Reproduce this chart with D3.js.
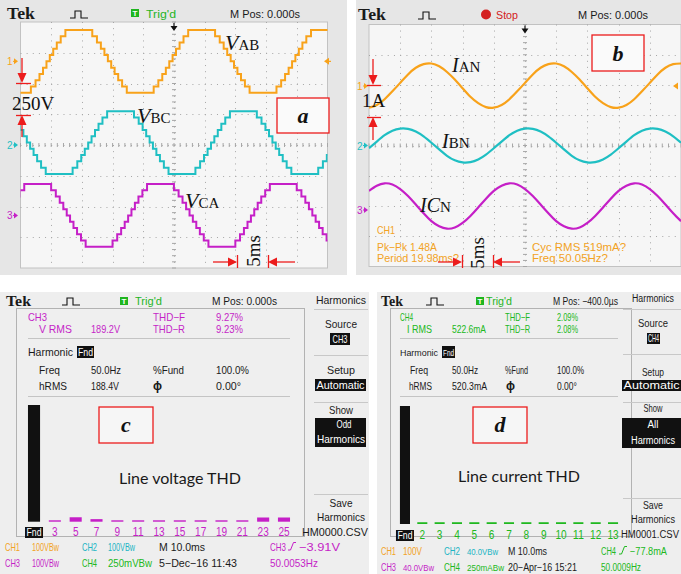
<!DOCTYPE html>
<html><head><meta charset="utf-8">
<script src="https://d3js.org/d3.v7.min.js"></script>
<style>html,body{margin:0;padding:0;background:#fff;} svg{display:block;}</style>
</head><body>
<svg id="chart" width="681" height="574"></svg>
<script>
// ================= DATA =================
// Staircase line voltages (panel a): one cycle of levels, start time of each level relative to the crest (ms)
const staircaseLevelStartMs = [-10,-7.81,-7.05,-6.41,-5.83,-5.27,-4.73,-4.17,-3.59,-2.95,-2.19,2.19,2.95,3.59,4.17,4.73,5.27,5.83,6.41,7.05,7.81];
const staircaseLevels = [-5,-4,-3,-2,-1,0,1,2,3,4,5,4,3,2,1,0,-1,-2,-3,-4,-5];
const staircaseStepDiv = 0.204;
const vabPeakTimesMs = [-15.5, 4.5, 24.5];
const vbcPeakTimesMs = [-28.7, -8.7, 11.3, 31.3];
const vcaPeakTimesMs = [-22.2, -2.2, 17.8];
const vabOffsetDiv = 2.72, vbcOffsetDiv = 0.08, vcaOffsetDiv = -2.29;

// Phase currents (panel b), divisions from screen centre
const currentTimesMs = [-25,-23.75,-22.5,-21.25,-20,-18.75,-17.5,-16.25,-15,-13.75,-12.5,-11.25,-10,-8.75,-7.5,-6.25,-5,-3.75,-2.5,-1.25,0,1.25,2.5,3.75,5,6.25,7.5,8.75,10,11.25,12.5,13.75,15,16.25,17.5,18.75,20,21.25,22.5,23.75,25];
const ianDiv = [1.25,1.34,1.53,1.79,2.07,2.35,2.57,2.69,2.71,2.62,2.43,2.18,1.89,1.61,1.40,1.27,1.25,1.34,1.53,1.79,2.07,2.35,2.57,2.69,2.71,2.62,2.43,2.18,1.89,1.61,1.40,1.27,1.25,1.34,1.53,1.79,2.07,2.35,2.57,2.69,2.71];
const ibnDiv = [-0.09,0.13,0.34,0.49,0.56,0.55,0.46,0.30,0.09,-0.13,-0.34,-0.49,-0.56,-0.55,-0.46,-0.30,-0.09,0.13,0.34,0.49,0.56,0.55,0.46,0.30,0.09,-0.13,-0.34,-0.49,-0.56,-0.55,-0.46,-0.30,-0.09,0.13,0.34,0.49,0.56,0.55,0.46,0.30,0.09];
const icnDiv = [-1.50,-1.33,-1.25,-1.29,-1.44,-1.67,-1.95,-2.24,-2.50,-2.67,-2.75,-2.71,-2.56,-2.33,-2.05,-1.76,-1.50,-1.33,-1.25,-1.29,-1.44,-1.67,-1.95,-2.24,-2.50,-2.67,-2.75,-2.71,-2.56,-2.33,-2.05,-1.76,-1.50,-1.33,-1.25,-1.29,-1.44,-1.67,-1.95,-2.24,-2.50];

// Harmonic spectra (panels c, d), % of fundamental
const voltageHarmonics = ["Fnd","3","5","7","9","11","13","15","17","19","21","23","25"];
const voltageHarmonicPct = [100,1.2,3.8,2.2,1.2,1.2,1.2,1.2,1.2,1.2,1.2,3.6,3.6];
const currentHarmonics = ["Fnd","2","3","4","5","6","7","8","9","10","11","12","13"];
const currentHarmonicPct = [100,1.5,1.5,1.5,1.5,1.5,1.5,1.5,1.5,1.5,1.5,1.5,1.5];

// ================= DRAWING =================
const svg = d3.select("#chart");
const SANS = "'Liberation Sans', Arial, Helvetica, sans-serif";
const SERIF = "'Liberation Serif', 'Times New Roman', serif";
const COL = {orange:"#f8a21a", teal:"#1fbfc3", magenta:"#c51fc7", green:"#20b820", red:"#ec1c1c", txtOrange:"#f2a224", txtTeal:"#20b4c4"};

svg.append("rect").attr("width",681).attr("height",574).attr("fill","#fff");

function txt(g,x,y,s,o={}){
  const t=g.append("text").attr("x",x).attr("y",y)
    .attr("font-family",o.family||SANS).attr("font-size",o.size||10.5)
    .attr("fill",o.color||"#1a1a1a").text(s);
  if(o.anchor) t.attr("text-anchor",o.anchor);
  if(o.weight) t.attr("font-weight",o.weight);
  if(o.italic) t.attr("font-style","italic");
  if(o.len) t.attr("textLength",o.len).attr("lengthAdjust","spacingAndGlyphs");
  return t;
}
function label(g,x,y,main,rest,big,small){
  const t=g.append("text").attr("x",x).attr("y",y).attr("font-family",SERIF).attr("fill","#111");
  t.append("tspan").attr("font-style","italic").attr("font-size",big).text(main);
  t.append("tspan").attr("font-size",small).text(rest);
}
function tri(g,x,y,dir,len,half,color){
  let p;
  if(dir==="down") p=[[x,y],[x-half,y-len],[x+half,y-len]];
  if(dir==="up") p=[[x,y],[x-half,y+len],[x+half,y+len]];
  if(dir==="right") p=[[x,y],[x-len,y-half],[x-len,y+half]];
  if(dir==="left") p=[[x,y],[x+len,y-half],[x+len,y+half]];
  g.append("path").attr("d","M"+p.map(d=>d.join(",")).join("L")+"Z").attr("fill",color);
}
function ln(g,x1,y1,x2,y2,color,w){
  g.append("line").attr("x1",x1).attr("y1",y1).attr("x2",x2).attr("y2",y2).attr("stroke",color).attr("stroke-width",w||1);
}
function pulse(g,x,y){
  g.append("path").attr("d",`M${x},${y}h5v-7h6v7h7`).attr("fill","none").attr("stroke","#111").attr("stroke-width",1.1);
}
function trigBox(g,x,y){
  g.append("rect").attr("x",x).attr("y",y).attr("width",8).attr("height",8).attr("fill","#1fb51f");
  txt(g,x+4,y+7,"T",{size:8,color:"#fff",anchor:"middle",weight:"bold"});
}
function chMarker(g,x,y,n,color){
  txt(g,x,y+4,n,{size:10,color});
  tri(g,x+11,y,"right",4,3,color);
  ln(g,x+6,y,x+8,y,color,1);
}

function scopePanel(P){
  const g=svg.append("g");
  g.append("rect").attr("x",P.fx).attr("y",P.fy).attr("width",P.fw).attr("height",P.fh).attr("fill","#e6e6e6");
  g.append("rect").attr("x",P.gx0).attr("y",P.gy0).attr("width",P.gx1-P.gx0).attr("height",P.gy1-P.gy0)
    .attr("fill","#f6f6f6").attr("stroke","#c2c2c2");
  const xs=d3.scaleLinear([-25,25],[P.gx0,P.gx1]);
  const ys=d3.scaleLinear([-4,4],[P.gy1,P.gy0]);
  const dx=(P.gx1-P.gx0)/50, dy=(P.gy1-P.gy0)/40;
  const grid=g.append("g").attr("stroke","#a6a6a6").attr("stroke-width",1);
  grid.selectAll("line.v").data(d3.range(-20,21,5)).join("line").attr("class","v")
    .attr("x1",d=>Math.round(xs(d))+0.5).attr("x2",d=>Math.round(xs(d))+0.5)
    .attr("y1",P.gy0).attr("y2",P.gy1).attr("stroke-dasharray",`1 ${dy-1}`);
  grid.selectAll("line.h").data(d3.range(-3,4,1)).join("line").attr("class","h")
    .attr("y1",d=>Math.round(ys(d))+0.5).attr("y2",d=>Math.round(ys(d))+0.5)
    .attr("x1",P.gx0).attr("x2",P.gx1).attr("stroke-dasharray",`1 ${dx-1}`);
  grid.selectAll("line.th").data(d3.range(-25,25.01,1)).join("line").attr("class","th")
    .attr("x1",d=>xs(d)).attr("x2",d=>xs(d)).attr("y1",ys(0)-2).attr("y2",ys(0)+2);
  grid.selectAll("line.tv").data(d3.range(-4,4.01,0.2)).join("line").attr("class","tv")
    .attr("y1",d=>ys(d)).attr("y2",d=>ys(d)).attr("x1",xs(0)-2).attr("x2",xs(0)+2);
  const id="clip"+P.fx;
  svg.append("clipPath").attr("id",id).append("rect").attr("x",P.gx0).attr("y",P.gy0)
    .attr("width",P.gx1-P.gx0).attr("height",P.gy1-P.gy0);
  const wave=svg.append("g").attr("clip-path",`url(#${id})`);
  ln(g,xs(0),P.gy0+1,xs(0),P.gy0+5,"#111",1.2);
  tri(g,xs(0),P.gy0+9,"down",5,3.5,"#111");
  return {g,xs,ys,wave};
}

// ---------- Panel a ----------
const A={fx:0,fy:0,fw:347,fh:275,gx0:20.5,gx1:327.5,gy0:22,gy1:268};
const pa=scopePanel(A);
txt(pa.g,7,19,"Tek",{family:SERIF,size:16,weight:"bold",len:28});
pulse(pa.g,70,18);
trigBox(pa.g,131,9);
txt(pa.g,146,17.5,"Trig'd",{size:11,color:"#1fb51f",len:30});
txt(pa.g,230,17.5,"M Pos: 0.000s",{size:11,len:70});

function stairPoints(peaks){
  const pts=[];
  peaks.forEach(p=>staircaseLevelStartMs.forEach((o,i)=>pts.push([p+o,staircaseLevels[i]])));
  pts.push([peaks[peaks.length-1]+10,staircaseLevels[staircaseLevels.length-1]]);
  return pts;
}
[[vabPeakTimesMs,vabOffsetDiv,COL.orange],[vbcPeakTimesMs,vbcOffsetDiv,COL.teal],[vcaPeakTimesMs,vcaOffsetDiv,COL.magenta]].forEach(([pk,off,c])=>{
  const line=d3.line().x(d=>pa.xs(d[0])).y(d=>pa.ys(off+d[1]*staircaseStepDiv)).curve(d3.curveStepAfter);
  pa.wave.append("path").attr("d",line(stairPoints(pk))).attr("fill","none").attr("stroke",c).attr("stroke-width",2);
});
chMarker(pa.g,7,pa.ys(vabOffsetDiv),"1",COL.orange);
chMarker(pa.g,7,pa.ys(0),"2",COL.teal);
chMarker(pa.g,7,pa.ys(-2.29),"3",COL.magenta);
tri(pa.g,324,pa.ys(vabOffsetDiv),"left",5,3.5,COL.orange);
ln(pa.g,328,pa.ys(vabOffsetDiv),331,pa.ys(vabOffsetDiv),COL.orange,1.2);

// ---------- Panel b ----------
const B={fx:356,fy:0,fw:325,fh:275,gx0:369,gx1:681,gy0:24.5,gy1:266.5};
const pb=scopePanel(B);
txt(pb.g,358,20,"Tek",{family:SERIF,size:16,weight:"bold",len:28});
pulse(pb.g,418,19);
pb.g.append("circle").attr("cx",486).attr("cy",14.5).attr("r",5).attr("fill","#d42020");
txt(pb.g,496,18.5,"Stop",{size:11,color:"#d42020",len:22});
txt(pb.g,578,18.5,"M Pos: 0.000s",{size:11,len:70});
[[ianDiv,COL.orange],[ibnDiv,COL.teal],[icnDiv,COL.magenta]].forEach(([vals,c])=>{
  const line=d3.line().x((d,i)=>pb.xs(currentTimesMs[i])).y(d=>pb.ys(d)).curve(d3.curveNatural);
  pb.wave.append("path").attr("d",line(vals)).attr("fill","none").attr("stroke",c).attr("stroke-width",2.2);
});
chMarker(pb.g,357,86,"1",COL.orange);
chMarker(pb.g,357,pb.ys(0),"2",COL.teal);
chMarker(pb.g,357,210,"3",COL.magenta);
tri(pb.g,673,86,"left",5,3.5,COL.orange);

// ---------- Harmonic panels ----------
function slope(g,x,y,color){
  g.append("path").attr("d",`M${x},${y}h2.5l3,-7.5h2.5`).attr("fill","none").attr("stroke",color).attr("stroke-width",1);
}
function invBox(g,x,y,w,h,s,len,size){
  g.append("rect").attr("x",x).attr("y",y).attr("width",w).attr("height",h).attr("fill","#111");
  txt(g,x+w/2,y+h-2.5,s,{size:size||10.5,color:"#fff",anchor:"middle",len});
}
function harmPanel(P){
  const g=svg.append("g");
  g.append("rect").attr("x",P.fx).attr("y",292).attr("width",P.fw).attr("height",282).attr("fill","#eeeeee");
  g.append("rect").attr("x",P.bx+0.5).attr("y",308.5).attr("width",P.bw).attr("height",228).attr("fill","#efefef").attr("stroke","#b2b2b2");
  const x=d3.scaleBand(P.cats,P.range).paddingInner(0.42).paddingOuter(0.21);
  const y=d3.scaleLinear([0,100],[P.base,P.top]);
  g.selectAll("rect.bar").data(P.vals).join("rect").attr("class","bar")
    .attr("x",(d,i)=>x(P.cats[i])).attr("width",x.bandwidth())
    .attr("y",d=>y(d)).attr("height",d=>y(0)-y(d))
    .attr("fill",(d,i)=>i===0?"#111":P.color);
  P.cats.forEach((c,i)=>{
    const cx=x(c)+x.bandwidth()/2;
    if(i===0) invBox(g,cx-9,P.lab-9,18,11,"Fnd",15,10.5);
    else txt(g,cx,P.lab,c,{size:12,color:P.color,anchor:"middle",len:c.length*5.6});
  });
  return g;
}

// Panel c
const M=COL.magenta, G=COL.green;
const gc=harmPanel({fx:0,fw:369,bx:16,bw:288,cats:voltageHarmonics,vals:voltageHarmonicPct,range:[23.6,294.4],base:521.7,top:405,lab:536,color:M});
txt(gc,6,306,"Tek",{family:SERIF,size:15,weight:"bold",len:25});
pulse(gc,62,305);
trigBox(gc,120,297);
txt(gc,135,305,"Trig'd",{size:10.5,color:"#1fb51f",len:27});
txt(gc,212,304.5,"M Pos: 0.000s",{size:10.5,len:65});
txt(gc,28,321,"CH3",{color:M,len:19});
txt(gc,39,333,"V RMS",{color:M,len:33});
txt(gc,91,333,"189.2V",{color:M,len:29});
txt(gc,153,321,"THD\u2212F",{color:M,len:32});
txt(gc,216,321,"9.27%",{color:M,len:27});
txt(gc,153,333,"THD\u2212R",{color:M,len:32});
txt(gc,216,333,"9.23%",{color:M,len:27});
ln(gc,28,338.5,290,338.5,"#c4c4c4",1);
txt(gc,28,356,"Harmonic",{len:45});
invBox(gc,77,346,17,12,"Fnd",15);
txt(gc,39,374,"Freq",{len:21}); txt(gc,91,374,"50.0Hz",{len:30}); txt(gc,153,374,"%Fund",{len:31}); txt(gc,216,374,"100.0%",{len:33});
txt(gc,39,390,"hRMS",{len:28}); txt(gc,91,390,"188.4V",{len:28}); txt(gc,153,390,"\u03D5",{size:12,weight:"bold"}); txt(gc,216,390,"0.00\u00B0",{len:25});
ln(gc,28,396.5,290,396.5,"#c4c4c4",1);
txt(gc,119,484,"Line voltage THD",{family:"Lato, 'Open Sans', sans-serif",size:16,len:122});
const mc=341;
txt(gc,mc,304,"Harmonics",{anchor:"middle",len:50});
[309.5,355.5,402.5,494.5].forEach(yy=>ln(gc,314,yy,368,yy,"#c8c8c8",1));
txt(gc,mc,328,"Source",{size:11,anchor:"middle",len:32});
invBox(gc,330,333,20,12,"CH3",15);
txt(gc,mc,374,"Setup",{size:11,anchor:"middle",len:28});
invBox(gc,315,379,51,12,"Automatic",48,11);
txt(gc,mc,414,"Show",{size:11,anchor:"middle",len:24});
gc.append("rect").attr("x",315).attr("y",418).attr("width",51).attr("height",29).attr("fill","#111");
txt(gc,344,428,"Odd",{size:11,color:"#fff",anchor:"middle",len:15});
txt(gc,mc,443,"Harmonics",{size:11,color:"#fff",anchor:"middle",len:48});
txt(gc,mc,507,"Save",{size:11,anchor:"middle",len:23});
txt(gc,mc,521,"Harmonics",{size:11,anchor:"middle",len:48});
txt(gc,335,536,"HM0000.CSV",{size:11,anchor:"middle",len:66});
txt(gc,5,551,"CH1",{size:11,color:COL.txtOrange,len:15});
txt(gc,32,551,"100VBw",{size:11,color:COL.txtOrange,len:27});
txt(gc,82,551,"CH2",{size:11,color:COL.txtTeal,len:15});
txt(gc,108,551,"100VBw",{size:11,color:COL.txtTeal,len:27});
txt(gc,159,551,"M 10.0ms",{size:11,len:46});
txt(gc,270,551,"CH3",{size:11,color:M,len:16});
slope(gc,288,550,M);
txt(gc,299,551,"\u22123.91V",{size:11,color:M,len:41});
txt(gc,5,567,"CH3",{size:11,color:M,len:15});
txt(gc,32,567,"100VBw",{size:11,color:M,len:27});
txt(gc,82,567,"CH4",{size:11,color:G,len:15});
txt(gc,108,567,"250mVBw",{size:11,color:G,len:44});
txt(gc,159,567,"5\u2212Dec\u221216 11:43",{size:11,len:78});
txt(gc,270,567,"50.0053Hz",{size:11,color:M,len:48});

// Panel d
const gd=harmPanel({fx:377,fw:304,bx:390,bw:241,cats:currentHarmonics,vals:currentHarmonicPct,range:[396.3,621.7],base:524,top:406,lab:539,color:G});
txt(gd,381,306,"Tek",{family:SERIF,size:15,weight:"bold",len:22});
pulse(gd,426,305);
trigBox(gd,476,297);
txt(gd,486,305,"Trig'd",{size:10.5,color:"#1fb51f",len:26});
txt(gd,553,304.5,"M Pos: \u2212400.0\u00B5s",{size:10.5,len:65});
txt(gd,400,321,"CH4",{color:G,len:13});
txt(gd,407,333,"I RMS",{color:G,len:25});
txt(gd,452,333,"522.6mA",{color:G,len:34});
txt(gd,505,321,"THD\u2212F",{color:G,len:25});
txt(gd,557,321,"2.09%",{color:G,len:21});
txt(gd,505,333,"THD\u2212R",{color:G,len:25});
txt(gd,557,333,"2.08%",{color:G,len:21});
ln(gd,400,338.5,618,338.5,"#c4c4c4",1);
txt(gd,400,356,"Harmonic",{size:9.5,len:38});
invBox(gd,442,346,13,12,"Fnd",11,8.5);
txt(gd,410,374,"Freq",{len:18}); txt(gd,452,374,"50.0Hz",{len:26}); txt(gd,505,374,"%Fund",{len:23}); txt(gd,557,374,"100.0%",{len:27});
txt(gd,409,390,"hRMS",{len:23}); txt(gd,452,390,"520.3mA",{len:35}); txt(gd,506,390,"\u03D5",{size:12,weight:"bold"}); txt(gd,557,390,"0.00\u00B0",{len:20});
ln(gd,400,396.5,618,396.5,"#c4c4c4",1);
txt(gd,458,482,"Line current THD",{family:"Lato, 'Open Sans', sans-serif",size:16,len:122});
const md=653;
txt(gd,md,302,"Harmonics",{size:10,anchor:"middle",len:42});
[309.5,354.5,402.5,498.5].forEach(yy=>ln(gd,623,yy,681,yy,"#c8c8c8",1));
txt(gd,md,327,"Source",{size:11,anchor:"middle",len:30});
invBox(gd,647,333,13,11,"CH4",11);
txt(gd,md,376,"Setup",{size:11,anchor:"middle",len:22});
invBox(gd,622,380,59,11,"Automatic",56,10);
txt(gd,md,412,"Show",{size:11,anchor:"middle",len:19});
gd.append("rect").attr("x",622).attr("y",418).attr("width",59).attr("height",30).attr("fill","#111");
txt(gd,md,428,"All",{size:11,color:"#fff",anchor:"middle",len:11});
txt(gd,md,444,"Harmonics",{size:10,color:"#fff",anchor:"middle",len:44});
txt(gd,md,509,"Save",{size:11,anchor:"middle",len:20});
txt(gd,md,523,"Harmonics",{size:10,anchor:"middle",len:44});
txt(gd,650,538,"HM0001.CSV",{size:10,anchor:"middle",len:58});
txt(gd,381,555,"CH1",{size:10,color:COL.txtOrange,len:15});
txt(gd,403,555,"100V",{size:10,color:COL.txtOrange,len:19});
txt(gd,444,555,"CH2",{size:10,color:COL.txtTeal,len:16});
txt(gd,467,555,"40.0VBw",{size:9,color:COL.txtTeal,len:31});
txt(gd,508,555,"M 10.0ms",{size:10,len:39});
txt(gd,601,555,"CH4",{size:10,color:G,len:15});
slope(gd,619,554,G);
txt(gd,630,555,"\u221277.8mA",{size:10,color:G,len:37});
txt(gd,381,571,"CH3",{size:10,color:M,len:15});
txt(gd,403,571,"40.0VBw",{size:9,color:M,len:31});
txt(gd,444,571,"CH4",{size:10,color:G,len:16});
txt(gd,467,571,"250mABw",{size:9,color:G,len:37});
txt(gd,508,571,"20\u2212Apr\u221216 15:21",{size:10,len:69});
txt(gd,601,571,"50.0009Hz",{size:10,color:G,len:40});

// ---------- Annotations (on top of everything) ----------
const ann=svg.append("g");
label(ann,225,50,"V","AB",22,15);
label(ann,137,123,"V","BC",22,15);
label(ann,185,208,"V","CA",22,15);
txt(ann,12,110,"250V",{family:SERIF,size:19,color:"#111"});
ln(ann,22,58,22,75,COL.red,1.3); tri(ann,22,83,"down",10,4.5,COL.red); ln(ann,16,83.5,31,83.5,COL.red,1.3);
ln(ann,16,115.5,31,115.5,COL.red,1.3); tri(ann,22,115,"up",10,4.5,COL.red); ln(ann,22,124,22,137,COL.red,1.3);
ann.append("rect").attr("x",277).attr("y",98).attr("width",52).attr("height",35).attr("fill","#fafafa").attr("stroke",COL.red).attr("stroke-width",1.3);
txt(ann,303,123,"a",{family:SERIF,size:22,weight:"bold",italic:true,anchor:"middle",color:"#111"});
ln(ann,213,262,229,262,COL.red,1.3); tri(ann,237,262,"right",9,4.5,COL.red); ln(ann,237.5,255,237.5,268,COL.red,1.3);
ln(ann,276,262,295,262,COL.red,1.3); tri(ann,268,262,"left",9,4.5,COL.red); ln(ann,268.5,255,268.5,268,COL.red,1.3);
txt(ann,0,0,"5ms",{family:SERIF,size:19,color:"#111",anchor:"middle"}).attr("transform","translate(260,251) rotate(-90)");

label(ann,452,72,"I","AN",20,15);
label(ann,442,148,"I","BN",20,15);
(function(){const t=ann.append("text").attr("x",420).attr("y",212).attr("font-family",SERIF).attr("fill","#111");
  t.append("tspan").attr("font-style","italic").attr("font-size",20).text("IC");
  t.append("tspan").attr("font-size",15).text("N");})();
txt(ann,362,107,"1A",{family:SERIF,size:19,color:"#111"});
ln(ann,373,59,373,76,COL.red,1.3); tri(ann,373,85,"down",10,4.5,COL.red); ln(ann,367,85.5,381,85.5,COL.red,1.3);
ln(ann,367,117.5,381,117.5,COL.red,1.3); tri(ann,373,117,"up",10,4.5,COL.red); ln(ann,373,126,373,140,COL.red,1.3);
ann.append("rect").attr("x",592).attr("y",35).attr("width",52).attr("height",36).attr("fill","#fafafa").attr("stroke",COL.red).attr("stroke-width",1.3);
txt(ann,618,61,"b",{family:SERIF,size:22,weight:"bold",italic:true,anchor:"middle",color:"#111"});
txt(ann,377,234,"CH1",{size:11,color:COL.txtOrange,len:18});
txt(ann,377,251,"Pk\u2212Pk 1.48A",{size:11,color:COL.txtOrange,len:60});
txt(ann,377,262,"Period 19.98ms?",{size:11,color:COL.txtOrange,len:82});
txt(ann,532,251,"Cyc RMS 519mA?",{size:11,color:COL.txtOrange,len:94});
txt(ann,532,262,"Freq 50.05Hz?",{size:11,color:COL.txtOrange,len:76});
ln(ann,438,262,454,262,COL.red,1.3); tri(ann,462,262,"right",9,4.5,COL.red); ln(ann,462.5,255,462.5,268,COL.red,1.3);
ln(ann,501,262,520,262,COL.red,1.3); tri(ann,493,262,"left",9,4.5,COL.red); ln(ann,493.5,255,493.5,268,COL.red,1.3);
txt(ann,0,0,"5ms",{family:SERIF,size:19,color:"#111",anchor:"middle"}).attr("transform","translate(484,253) rotate(-90)");

ann.append("rect").attr("x",99).attr("y",407).attr("width",54).attr("height",36).attr("fill","#f6f6f6").attr("stroke",COL.red).attr("stroke-width",1.3);
txt(ann,126,432,"c",{family:SERIF,size:22,weight:"bold",italic:true,anchor:"middle",color:"#111"});
ann.append("rect").attr("x",473).attr("y",407).attr("width",54).attr("height",36).attr("fill","#f6f6f6").attr("stroke",COL.red).attr("stroke-width",1.3);
txt(ann,500,432,"d",{family:SERIF,size:22,weight:"bold",italic:true,anchor:"middle",color:"#111"});
</script>
</body></html>
